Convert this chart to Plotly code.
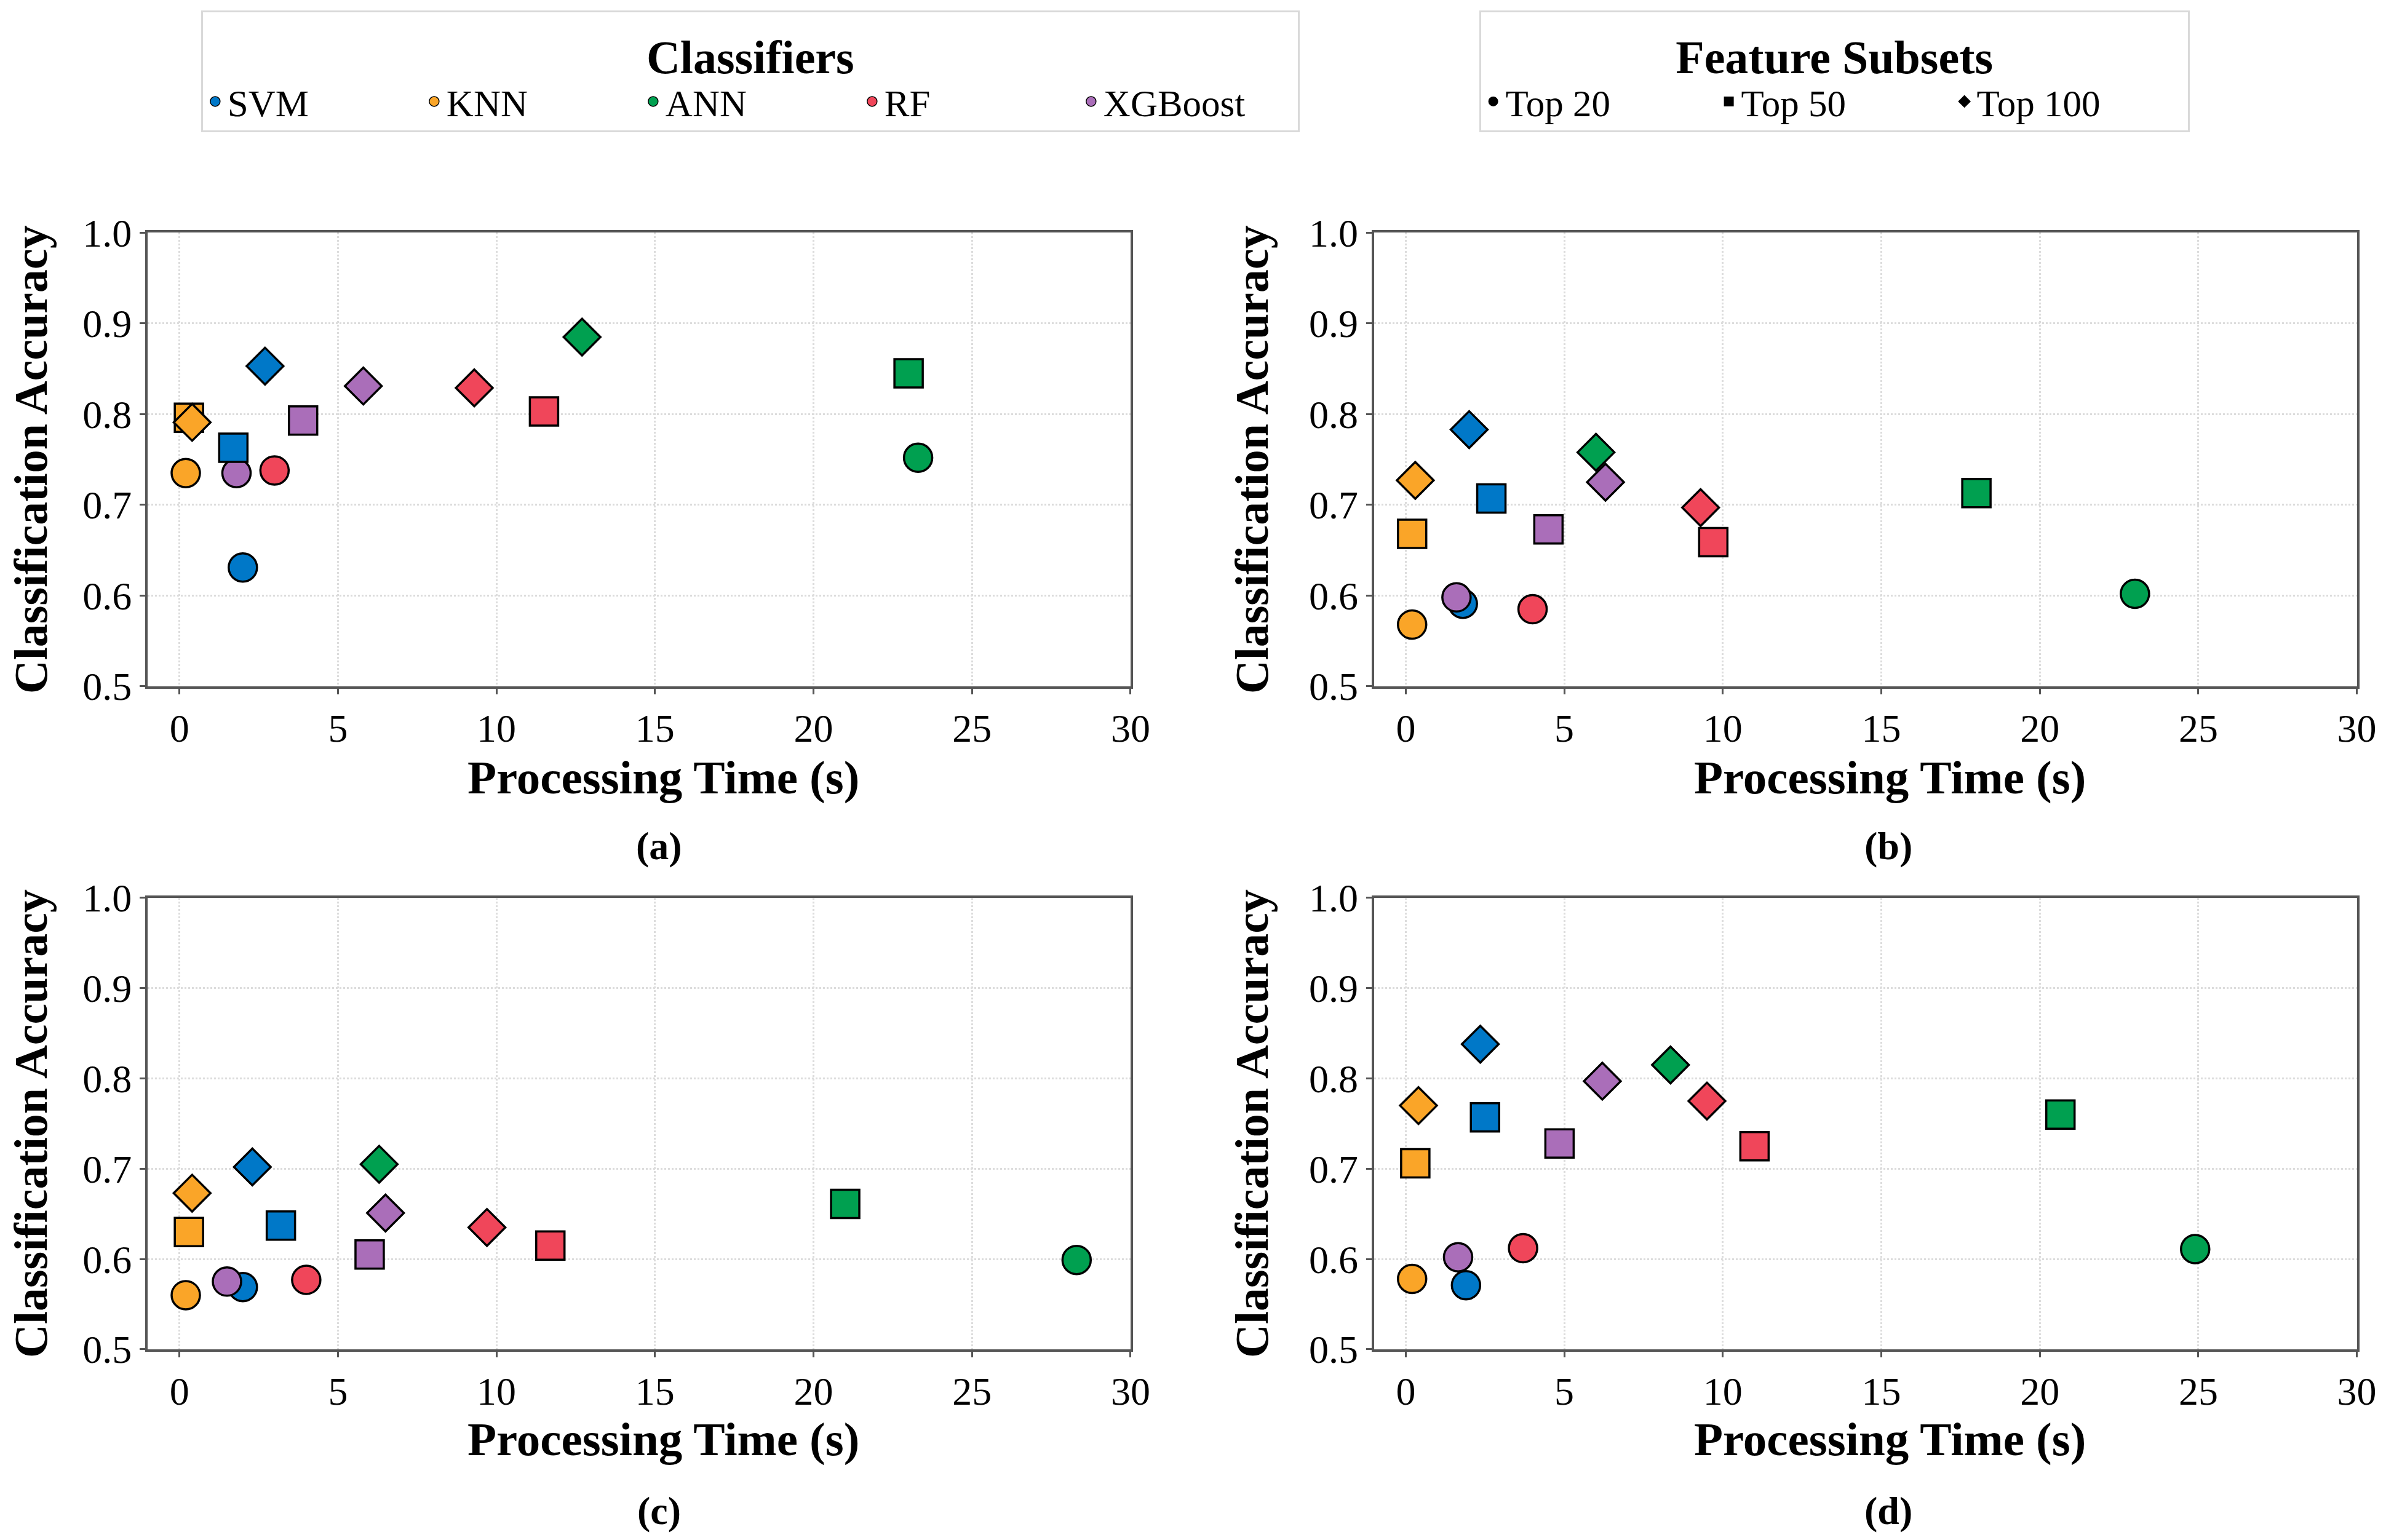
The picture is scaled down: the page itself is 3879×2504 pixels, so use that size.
import plotly.graph_objects as go

# classifiers / feature subsets
classifiers = ["SVM", "KNN", "ANN", "RF", "XGBoost"]
colors = ["#0078C8", "#FAA528", "#00A050", "#F0465A", "#AA6EB9"]
subsets = ["Top 20", "Top 50", "Top 100"]
symbols = ["circle", "square", "diamond"]

# panel (a)
a_time_top20 = [2.0, 0.2, 23.3, 3.0, 1.8]
a_acc_top20 = [0.631, 0.735, 0.752, 0.738, 0.735]
a_time_top50 = [1.7, 0.3, 23.0, 11.5, 3.9]
a_acc_top50 = [0.763, 0.796, 0.845, 0.803, 0.793]
a_time_top100 = [2.7, 0.4, 12.7, 9.3, 5.8]
a_acc_top100 = [0.853, 0.791, 0.885, 0.829, 0.831]

# panel (b)
b_time_top20 = [1.8, 0.2, 23.0, 4.0, 1.6]
b_acc_top20 = [0.591, 0.568, 0.602, 0.585, 0.598]
b_time_top50 = [2.7, 0.2, 18.0, 9.7, 4.5]
b_acc_top50 = [0.707, 0.668, 0.713, 0.659, 0.673]
b_time_top100 = [2.0, 0.3, 6.0, 9.3, 6.3]
b_acc_top100 = [0.783, 0.727, 0.758, 0.697, 0.725]

# panel (c)
c_time_top20 = [2.0, 0.2, 28.3, 4.0, 1.5]
c_acc_top20 = [0.569, 0.560, 0.599, 0.577, 0.575]
c_time_top50 = [3.2, 0.3, 21.0, 11.7, 6.0]
c_acc_top50 = [0.637, 0.630, 0.661, 0.615, 0.605]
c_time_top100 = [2.3, 0.4, 6.3, 9.7, 6.5]
c_acc_top100 = [0.702, 0.673, 0.705, 0.635, 0.651]

# panel (d)
d_time_top20 = [1.9, 0.2, 24.9, 3.7, 1.65]
d_acc_top20 = [0.571, 0.578, 0.611, 0.612, 0.602]
d_time_top50 = [2.5, 0.3, 20.65, 11.0, 4.85]
d_acc_top50 = [0.757, 0.706, 0.760, 0.725, 0.728]
d_time_top100 = [2.35, 0.4, 8.35, 9.5, 6.2]
d_acc_top100 = [0.838, 0.770, 0.815, 0.775, 0.797]

panels = [
    ("(a)", [(a_time_top20, a_acc_top20), (a_time_top50, a_acc_top50), (a_time_top100, a_acc_top100)]),
    ("(b)", [(b_time_top20, b_acc_top20), (b_time_top50, b_acc_top50), (b_time_top100, b_acc_top100)]),
    ("(c)", [(c_time_top20, c_acc_top20), (c_time_top50, c_acc_top50), (c_time_top100, c_acc_top100)]),
    ("(d)", [(d_time_top20, d_acc_top20), (d_time_top50, d_acc_top50), (d_time_top100, d_acc_top100)]),
]

# page has an 8px body margin, so keep the figure inside the window
W, H = 3863, 2488
FONT = "Liberation Serif"

x_domains = [[0.0601, 0.4737], [0.5762, 0.9898]]
y_domains = [[0.5547, 0.8511], [0.1214, 0.4164]]
label_x = [0.2752, 0.7926]
label_y = [0.4502, 0.0157]
xtitle_x = [0.2772, 0.7934]
xtitle_y = [0.4952, 0.0627]

fig = go.Figure()

for i, (label, series) in enumerate(panels):
    ax = "" if i == 0 else str(i + 1)
    for (t, acc), sym in zip(series, symbols):
        fig.add_trace(go.Scatter(
            x=t, y=acc, mode="markers",
            marker=dict(symbol=sym, size=46, color=colors,
                        line=dict(color="black", width=3.5)),
            showlegend=False, xaxis="x" + ax, yaxis="y" + ax))

    row, col = divmod(i, 2)
    axis_common = dict(showline=True, mirror=True, linecolor="#555555", linewidth=4,
                       ticks="outside", ticklen=9, tickwidth=3, tickcolor="#555555",
                       showgrid=True, gridcolor="#dcdcdc", gridwidth=3, griddash="dot",
                       zeroline=False, automargin=False, ticklabeloverflow="allow",
                       tickfont=dict(family=FONT, size=64, color="black"))
    fig.update_layout({
        "xaxis" + ax: dict(axis_common, domain=x_domains[col], range=[-1, 30], dtick=5,
                           anchor="y" + ax),
        "yaxis" + ax: dict(axis_common, domain=y_domains[row], range=[0.5, 1.0], dtick=0.1,
                           tickformat=".1f", anchor="x" + ax,
                           title=dict(text="Classification Accuracy", standoff=42,
                                      font=dict(family=FONT, size=76, color="black", weight="bold"))),
    })
    # x title centred on the whole panel, as in the original
    fig.add_annotation(text="Processing Time (s)", x=xtitle_x[col], y=xtitle_y[row],
                       xref="paper", yref="paper", xanchor="center", yanchor="middle",
                       showarrow=False, font=dict(family=FONT, size=77, color="black", weight="bold"))
    fig.add_annotation(text=label, x=label_x[col], y=label_y[row], xref="paper", yref="paper",
                       xanchor="center", yanchor="middle", showarrow=False,
                       font=dict(family=FONT, size=64, color="black", weight="bold"))

# legend entries
for name, c in zip(classifiers, colors):
    fig.add_trace(go.Scatter(x=[None], y=[None], mode="markers", name=name,
                             marker=dict(symbol="circle", size=16, color=c,
                                         line=dict(color="black", width=1.5)),
                             legend="legend"))
for name, sym in zip(subsets, symbols):
    fig.add_trace(go.Scatter(x=[None], y=[None], mode="markers", name=name,
                             marker=dict(symbol=sym, size=16, color="black"),
                             legend="legend2"))

legend_common = dict(orientation="h", yanchor="top", y=0.9964, xanchor="center",
                     bordercolor="#d9d9d9", borderwidth=3, bgcolor="white",
                     font=dict(family=FONT, size=61, color="black"))
fig.update_layout(
    width=W, height=H,
    margin=dict(l=0, r=0, t=0, b=0),
    paper_bgcolor="white", plot_bgcolor="white",
    font=dict(family=FONT, color="black"),
    legend=dict(legend_common, x=0.3137, entrywidth=311,
                title=dict(text="Classifiers", side="top center",
                           font=dict(family=FONT, size=76, color="black", weight="bold"))),
    legend2=dict(legend_common, x=0.7699, entrywidth=338,
                 title=dict(text="Feature Subsets", side="top center",
                            font=dict(family=FONT, size=76, color="black", weight="bold"))),
)

fig.write_html("out.html")
